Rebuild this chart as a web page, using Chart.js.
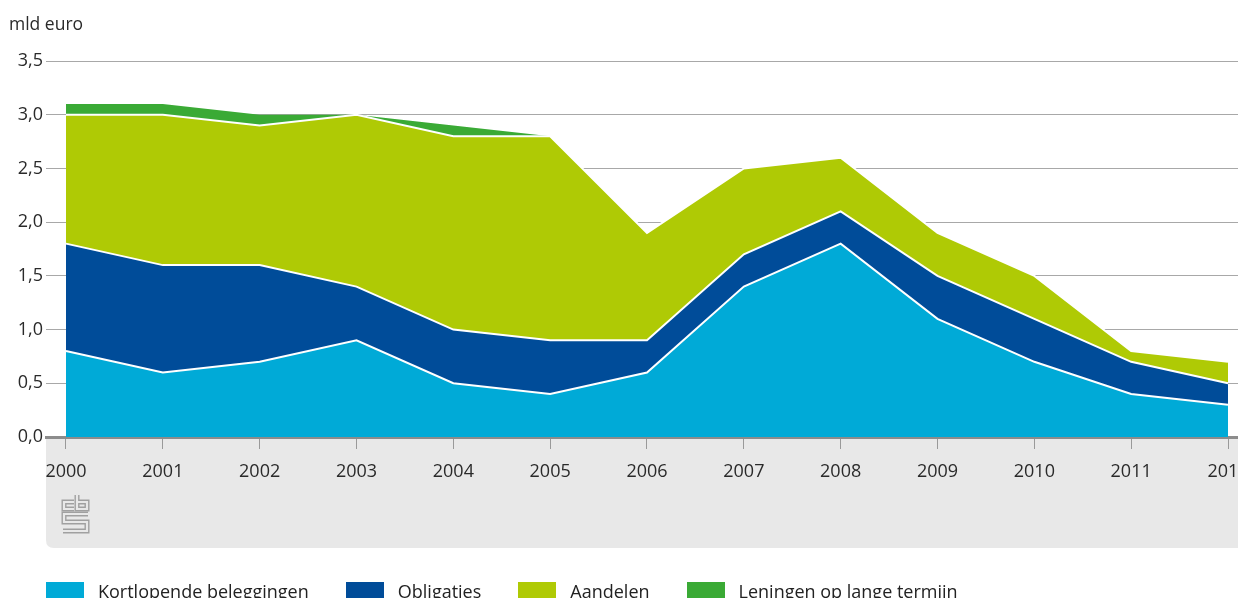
<!DOCTYPE html>
<html>
<head>
<meta charset="utf-8">
<title>Beleggingen</title>
<script src="https://cdn.jsdelivr.net/npm/chart.js@4"></script>
<style>
  body { margin: 0; background: #fff; font-family: "Open Sans", sans-serif; }
  #wrap { position: relative; width: 1238px; height: 598px; overflow: hidden; }
  #legend { position: absolute; left: 46px; top: 580px; display: flex; gap: 37px; font-size: 18px; color: #222; white-space: nowrap; }
  #legend .item { display: flex; align-items: flex-start; }
  #legend .box { width: 38px; height: 18px; margin-top: 2px; margin-right: 14px; }
  #legend span { line-height: 22px; }
</style>
</head>
<body>
<div id="wrap">
  <canvas id="chart" width="1238" height="598"></canvas>
  <div id="legend"></div>
</div>
<script>
// Data (mld euro)
const years = [2000, 2001, 2002, 2003, 2004, 2005, 2006, 2007, 2008, 2009, 2010, 2011, 2012];
const kortlopend = [0.8, 0.6, 0.7, 0.9, 0.5, 0.4, 0.6, 1.4, 1.8, 1.1, 0.7, 0.4, 0.3];
const obligaties = [1.0, 1.0, 0.9, 0.5, 0.5, 0.5, 0.3, 0.3, 0.3, 0.4, 0.4, 0.3, 0.2];
const aandelen = [1.2, 1.4, 1.3, 1.6, 1.8, 1.9, 1.0, 0.8, 0.5, 0.4, 0.4, 0.1, 0.2];
const leningen = [0.1, 0.1, 0.1, 0.0, 0.1, 0.0, null, null, null, null, null, null, null];
const yTicks = [0, 0.5, 1, 1.5, 2, 2.5, 3, 3.5];

const seriesNames = ['Kortlopende beleggingen', 'Obligaties', 'Aandelen', 'Leningen op lange termijn'];
const colors = ['#00aad7', '#004c99', '#afca05', '#3aaa35'];

const FONT = '"Open Sans", sans-serif';
const TEXT = '#2a2a2a';
const BAND = '#e8e8e8';

function points(vals) {
  return years.map((yr, i) => ({ x: yr, y: vals[i] }));
}

// gray band under the x axis, axis title and logo
const decor = {
  id: 'decor',
  beforeDraw(chart) {
    const ctx = chart.ctx;
    const area = chart.chartArea;
    ctx.save();
    ctx.fillStyle = BAND;
    const x0 = area.left, y0 = area.bottom, x1 = chart.width, y1 = 548, r = 8;
    ctx.beginPath();
    ctx.moveTo(x0, y0);
    ctx.lineTo(x1, y0);
    ctx.lineTo(x1, y1);
    ctx.lineTo(x0 + r, y1);
    ctx.quadraticCurveTo(x0, y1, x0, y1 - r);
    ctx.closePath();
    ctx.fill();

    ctx.fillStyle = TEXT;
    ctx.font = '17.5px ' + FONT;
    ctx.textBaseline = 'middle';
    ctx.textAlign = 'left';
    ctx.fillText('mld euro', 9, 25);

    // cbs logo, outlined strokes
    const paths = [
      [[74, 502], [64, 502], [64, 509], [74, 509]],
      [[77, 495], [77, 509], [87, 509], [87, 502], [77, 502]],
      [[88, 514], [64, 514], [64, 522], [87, 522], [87, 531], [63, 531]]
    ];
    [[5, '#a0a0a0'], [2.2, BAND]].forEach(([w, c]) => {
      ctx.lineWidth = w;
      ctx.strokeStyle = c;
      ctx.lineJoin = 'miter';
      paths.forEach(p => {
        ctx.beginPath();
        p.forEach(([x, y], i) => i ? ctx.lineTo(x, y) : ctx.moveTo(x, y));
        ctx.stroke();
      });
    });
    ctx.restore();
  }
};

const datasets = [
  { label: seriesNames[0], data: points(kortlopend), fill: 'origin', borderColor: '#fff', borderWidth: 2 },
  { label: seriesNames[1], data: points(obligaties), fill: '-1', borderColor: '#fff', borderWidth: 2 },
  { label: seriesNames[2], data: points(aandelen), fill: '-1', borderColor: '#fff', borderWidth: 2 },
  { label: seriesNames[3], data: points(leningen), fill: '-1', borderWidth: 0, borderColor: 'rgba(0,0,0,0)' }
].map((d, i) => Object.assign(d, {
  backgroundColor: colors[i],
  pointRadius: 0,
  pointHoverRadius: 0,
  tension: 0,
  spanGaps: false
}));

const step = (1238 - 46 - 20 - 10) / 12;

const chart = new Chart(document.getElementById('chart'), {
  type: 'line',
  data: { datasets },
  options: {
    responsive: false,
    animation: false,
    layout: { padding: { top: 61, left: 0, right: 0, bottom: 0 } },
    plugins: {
      legend: { display: false },
      tooltip: { enabled: false },
      filler: { propagate: false }
    },
    scales: {
      x: {
        type: 'linear',
        min: years[0] - 20 / step,
        max: years[years.length - 1] + 10 / step,
        afterBuildTicks: s => { s.ticks = years.map(v => ({ value: v })); },
        afterFit: s => { s.height = 161; s.paddingLeft = 0; s.paddingRight = 0; },
        border: { display: true, color: '#8c8c8c', width: 3 },
        grid: { drawOnChartArea: false, drawTicks: true, tickLength: 12, color: '#999', lineWidth: 1 },
        ticks: {
          autoSkip: false, maxRotation: 0, padding: 12,
          color: TEXT, font: { family: FONT, size: 18 },
          callback: v => String(v)
        }
      },
      y: {
        stacked: true,
        min: 0,
        max: 3.5,
        afterBuildTicks: s => { s.ticks = yTicks.map(v => ({ value: v })); },
        afterFit: s => { s.width = 46; },
        border: { display: false },
        grid: { color: '#a8a8a8', lineWidth: 1, drawTicks: false },
        ticks: {
          padding: 3, color: TEXT, font: { family: FONT, size: 18 },
          callback: v => v.toFixed(1).replace('.', ',')
        }
      }
    }
  },
  plugins: [decor]
});

// html legend from the datasets
const legend = document.getElementById('legend');
chart.data.datasets.forEach(d => {
  const item = document.createElement('div');
  item.className = 'item';
  item.innerHTML = `<div class="box" style="background:${d.backgroundColor}"></div><span>${d.label}</span>`;
  legend.appendChild(item);
});
</script>
</body>
</html>
